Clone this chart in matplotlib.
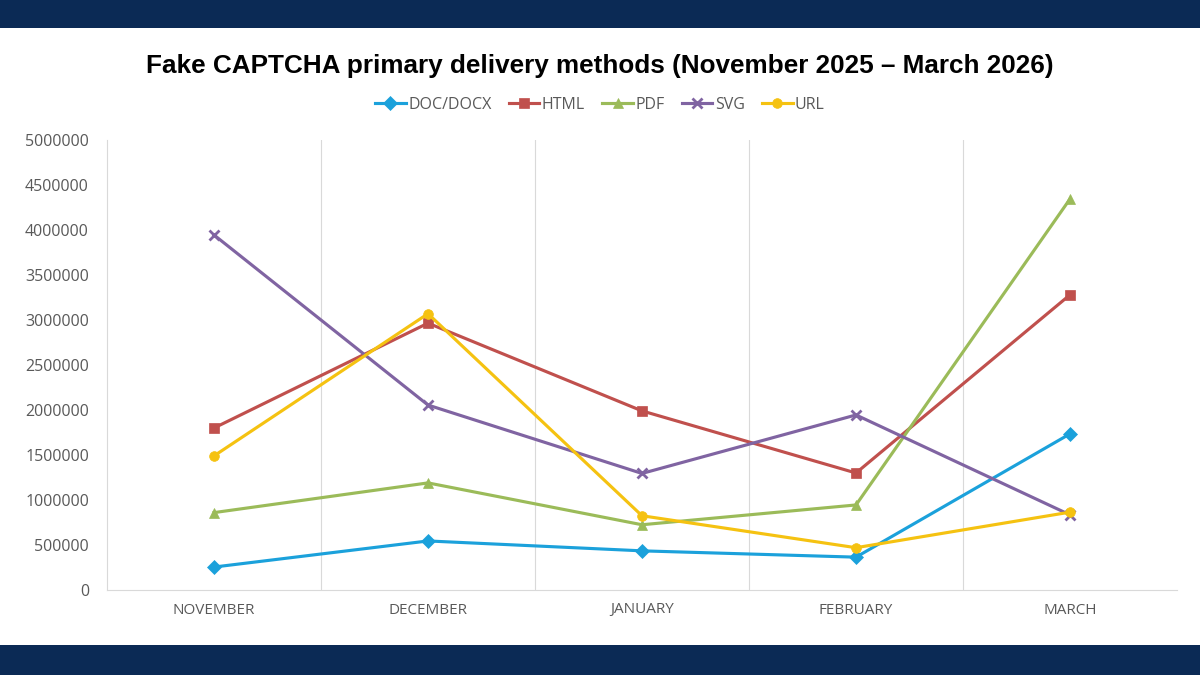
import matplotlib.pyplot as plt
from matplotlib.patches import Rectangle

# Data
months = ["NOVEMBER", "DECEMBER", "JANUARY", "FEBRUARY", "MARCH"]
doc_docx = [255000, 545000, 435000, 365000, 1735000]
html = [1800000, 2965000, 1990000, 1300000, 3280000]
pdf = [860000, 1190000, 725000, 945000, 4345000]
svg = [3945000, 2055000, 1295000, 1945000, 835000]
url = [1490000, 3070000, 825000, 470000, 865000]

series = [
    ("DOC/DOCX", doc_docx, "#1BA1DB", "D"),
    ("HTML", html, "#C0504D", "s"),
    ("PDF", pdf, "#9BBB59", "^"),
    ("SVG", svg, "#8064A2", "x"),
    ("URL", url, "#F5C211", "o"),
]

navy = "#0B2A55"
tick_grey = "#595959"
grid_grey = "#D9D9D9"

fig = plt.figure(figsize=(12, 6.75), dpi=100)
fig.patch.set_facecolor("white")

# Navy bands top and bottom
fig.add_artist(Rectangle((0, 1 - 28 / 675), 1, 28 / 675, transform=fig.transFigure,
                         facecolor=navy, edgecolor="none"))
fig.add_artist(Rectangle((0, 0), 1, 30 / 675, transform=fig.transFigure,
                         facecolor=navy, edgecolor="none"))

ax = fig.add_axes([107 / 1200, 1 - 590 / 675, (1177 - 107) / 1200, (590 - 140) / 675])

x = list(range(len(months)))
for name, vals, color, marker in series:
    ax.plot(x, vals, color=color, linewidth=2.25, marker=marker, markersize=7,
            markeredgewidth=2 if marker == "x" else 0.5, markeredgecolor=color,
            label=name, zorder=3)

ax.set_xlim(-0.5, len(months) - 0.5)
ax.set_ylim(0, 5000000)
ax.set_yticks(range(0, 5000001, 500000))
ax.set_yticklabels([str(v) for v in range(0, 5000001, 500000)])
ax.set_xticks(x)
ax.set_xticklabels(months)

# vertical separators between categories
for b in [0.5, 1.5, 2.5, 3.5]:
    ax.axvline(b, color=grid_grey, linewidth=0.8, zorder=1)

for side in ["top", "right"]:
    ax.spines[side].set_visible(False)
ax.spines["left"].set_color(grid_grey)
ax.spines["bottom"].set_color(grid_grey)
ax.tick_params(axis="both", length=0)
ax.tick_params(axis="y", labelsize=11.5, labelcolor=tick_grey, pad=13)
ax.tick_params(axis="x", labelsize=11, labelcolor=tick_grey, pad=9)
for lbl in ax.get_yticklabels():
    lbl.set_family(["Open Sans", "DejaVu Sans"])
for lbl in ax.get_xticklabels():
    lbl.set_family(["Open Sans", "DejaVu Sans"])

fig.text(0.5, 1 - 66 / 675, "Fake CAPTCHA primary delivery methods (November 2025 \u2013 March 2026)",
         ha="center", va="center", fontsize=18.8, fontweight="bold",
         family=["Liberation Sans", "DejaVu Sans"], color="black")

leg = fig.legend(loc="center", bbox_to_anchor=(0.5, 1 - 105 / 675), ncol=5, frameon=False,
                 handlelength=1.9, columnspacing=1.1, handletextpad=0.15,
                 prop={"family": ["Open Sans", "DejaVu Sans"], "size": 11.5})
for t in leg.get_texts():
    t.set_color(tick_grey)

fig.savefig("out.png", dpi=100)
